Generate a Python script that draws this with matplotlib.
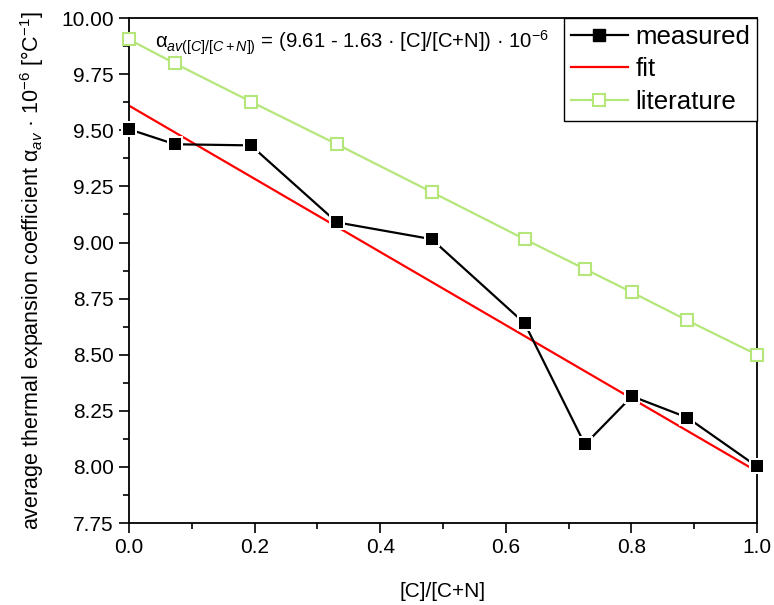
import numpy as np
import matplotlib
matplotlib.use('Agg')
import matplotlib.pyplot as plt
from matplotlib.ticker import MultipleLocator

plt.rcParams['font.family'] = ['Liberation Sans', 'DejaVu Sans']
plt.rcParams['mathtext.fontset'] = 'custom'
plt.rcParams['mathtext.rm'] = 'Liberation Sans'
plt.rcParams['mathtext.it'] = 'Liberation Sans:italic'

# 数据
cn_ratio = [0.0, 0.073, 0.194, 0.331, 0.482, 0.630, 0.726, 0.801, 0.889, 1.0]
measured = [9.505, 9.438, 9.433, 9.090, 9.015, 8.640, 8.100, 8.315, 8.220, 8.002]
literature = [9.905, 9.798, 9.628, 9.438, 9.225, 9.015, 8.882, 8.778, 8.653, 8.500]
fit_a = 9.61
fit_b = 1.63

green = '#b4e67a'

fig = plt.figure(figsize=(7.74, 6.05), dpi=100)
ax = fig.add_axes([0.1667, 0.1355, 0.8113, 0.8345])

# 拟合线
xf = np.array([0.0, 1.0])
ax.plot(xf, fit_a - fit_b * xf, '-', color='red', lw=1.6, zorder=2)

# 文献值: 线 + 白底 + 空心方块
ax.plot(cn_ratio, literature, '-', color=green, lw=1.6, zorder=3)
ax.plot(cn_ratio, literature, 's', ms=10, mfc='white', mec='white', mew=0, zorder=4, clip_on=False)
ax.plot(cn_ratio, literature, 's', ms=8, mfc='white', mec=green, mew=1.5, zorder=5, clip_on=False)

# 测量值
ax.plot(cn_ratio, measured, '-', color='black', lw=1.6, zorder=6)
ax.plot(cn_ratio, measured, 's', ms=11.5, mfc='white', mec='white', mew=0, zorder=7, clip_on=False)
ax.plot(cn_ratio, measured, 's', ms=8.5, mfc='black', mec='black', mew=0, zorder=8, clip_on=False)

# 图例用的句柄
h1, = ax.plot([], [], '-s', color='black', lw=1.6, ms=8.5, label='measured')
h2, = ax.plot([], [], '-', color='red', lw=1.6, label='fit')
h3, = ax.plot([], [], '-s', color=green, lw=1.6, ms=8, mfc='white', mew=1.5, label='literature')
leg = ax.legend(handles=[h1, h2, h3], loc='upper right', fontsize=18.6, frameon=True,
                fancybox=False, edgecolor='black', borderaxespad=0, handlelength=2.2,
                handletextpad=0.3, borderpad=0.26, labelspacing=0.33, framealpha=1)
leg.get_frame().set_linewidth(1.0)
leg.set_zorder(10)

ax.text(0.041, 9.89, r'α$_{av([C]/[C+N])}$ = (9.61 - 1.63 · [C]/[C+N]) · 10$^{-6}$',
        fontsize=14.6, va='center', ha='left', zorder=9)

ax.set_xlim(0, 1.0)
ax.set_ylim(7.75, 10.0)
ax.xaxis.set_major_locator(MultipleLocator(0.2))
ax.xaxis.set_minor_locator(MultipleLocator(0.1))
ax.yaxis.set_major_locator(MultipleLocator(0.25))
ax.yaxis.set_minor_locator(MultipleLocator(0.125))
ax.xaxis.set_major_formatter(plt.FuncFormatter(lambda v, p: '{:.1f}'.format(v)))
ax.yaxis.set_major_formatter(plt.FuncFormatter(lambda v, p: '{:.2f}'.format(v)))
ax.tick_params(which='major', direction='out', length=7.5, width=1.2, labelsize=15, top=False, right=False)
ax.tick_params(which='minor', direction='out', length=4, width=1.2, top=False, right=False)
for s in ax.spines.values():
    s.set_linewidth(1.3)

ax.set_xlabel('[C]/[C+N]', fontsize=15, labelpad=18)
ax.set_ylabel(r'average thermal expansion coefficient α$_{av}$ · 10$^{-6}$ [°C$^{-1}$]', fontsize=15.5, labelpad=11)

fig.savefig('out.png', dpi=100)
